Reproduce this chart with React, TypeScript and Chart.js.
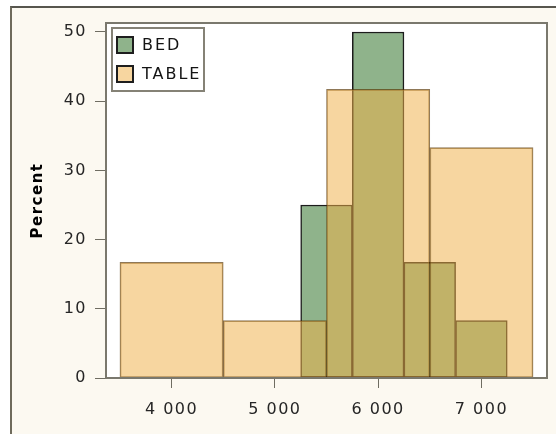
import React, { useEffect, useRef } from 'react';
import { Chart, registerables } from 'chart.js';

Chart.register(...registerables);

const seriesNames = ['BED', 'TABLE'];
const bedBinEdges = [5250, 5750, 6250, 6750, 7250];
const bedPercent = [25, 50, 16.7, 8.3];
const tableBinEdges = [3500, 4500, 5500, 6500, 7500];
const tablePercent = [16.7, 8.3, 41.7, 33.3];
const xTickValues = [4000, 5000, 6000, 7000];
const yTickValues = [0, 10, 20, 30, 40, 50];
const yAxisTitle = 'Percent';

const FONT = '"DejaVu Sans", Verdana, sans-serif';

const toBars = (edges: number[], values: number[]) =>
  values.map((v, i) => ({ x: (edges[i] + edges[i + 1]) / 2, y: v }));

const fmt = (v: number) => String(v).replace(/\B(?=(\d{3})+(?!\d))/g, ' ');

const backgroundPlugin = {
  id: 'plotBackground',
  beforeDraw(chart: any) {
    const { ctx, chartArea: a } = chart;
    ctx.letterSpacing = '1.5px';
    ctx.save();
    ctx.fillStyle = '#ffffff';
    ctx.fillRect(a.left, a.top, a.right - a.left, a.bottom - a.top);
    ctx.restore();
  },
};

const framePlugin = {
  id: 'plotFrame',
  afterDatasetsDraw(chart: any) {
    const { ctx, chartArea: a } = chart;
    ctx.save();
    ctx.strokeStyle = '#7a786d';
    ctx.lineWidth = 2;
    ctx.strokeRect(a.left, a.top, a.right - a.left, a.bottom - a.top);
    ctx.restore();

    // legend box inside the plot area
    const datasets = chart.data.datasets;
    const boxX = a.left + 5;
    const boxY = a.top + 4;
    const boxW = 94;
    const boxH = 65;
    ctx.save();
    ctx.fillStyle = '#ffffff';
    ctx.fillRect(boxX, boxY, boxW, boxH);
    ctx.strokeStyle = '#858276';
    ctx.lineWidth = 2;
    ctx.strokeRect(boxX + 1, boxY + 1, boxW - 2, boxH - 2);
    ctx.letterSpacing = '2px';
    ctx.font = `16px ${FONT}`;
    ctx.textBaseline = 'middle';
    ctx.textAlign = 'left';
    datasets.forEach((ds: any, i: number) => {
      const sy = boxY + 9 + i * 29;
      ctx.fillStyle = ds.backgroundColor;
      ctx.fillRect(boxX + 6, sy + 1, 16, 16);
      ctx.strokeStyle = '#1e1e1e';
      ctx.lineWidth = 2;
      ctx.strokeRect(boxX + 6, sy + 1, 16, 16);
      ctx.fillStyle = '#141414';
      ctx.fillText(ds.label, boxX + 31, sy + 9.5);
    });
    ctx.restore();
  },
};

export default function App() {
  const ref = useRef<HTMLCanvasElement | null>(null);

  useEffect(() => {
    if (!ref.current) return;
    const tickFont = { family: FONT, size: 16 };
    const chart = new Chart(ref.current, {
      type: 'bar',
      data: {
        datasets: [
          {
            label: seriesNames[0],
            data: toBars(bedBinEdges, bedPercent),
            xAxisID: 'x2',
            yAxisID: 'y',
            backgroundColor: '#8fb38b',
            borderColor: '#1c1c1c',
            borderWidth: 1.5,
            borderSkipped: false,
            barPercentage: 1,
            categoryPercentage: 1,
            grouped: false,
            order: 2,
          },
          {
            label: seriesNames[1],
            data: toBars(tableBinEdges, tablePercent),
            xAxisID: 'x',
            yAxisID: 'y',
            backgroundColor: 'rgba(240,176,72,0.52)',
            borderColor: 'rgba(85,50,0,0.66)',
            borderWidth: 1,
            borderSkipped: false,
            barPercentage: 1,
            categoryPercentage: 1,
            grouped: false,
            order: 1,
          },
        ] as any,
      },
      options: {
        responsive: false,
        animation: false,
        layout: { padding: { left: 0, top: 23, right: 9, bottom: 0 } },
        plugins: {
          legend: { display: false },
          tooltip: { enabled: false },
        },
        scales: {
          x: {
            type: 'linear',
            position: 'bottom',
            min: 3365,
            max: 7635,
            offset: false,
            afterBuildTicks: (s: any) => {
              s.ticks = xTickValues.map((v) => ({ value: v }));
            },
            afterFit: (s: any) => {
              s.height = 56;
            },
            ticks: {
              callback: (v: any) => fmt(Number(v)),
              color: '#262626',
              font: tickFont,
              padding: 12,
              maxRotation: 0,
              autoSkip: false,
            },
            grid: {
              offset: false,
              drawOnChartArea: false,
              drawTicks: true,
              tickLength: 10,
              tickColor: '#6f6d62',
              tickWidth: 1,
            },
            border: { display: false },
          },
          x2: {
            type: 'linear',
            position: 'bottom',
            display: false,
            min: 3365,
            max: 7635,
            offset: false,
            afterBuildTicks: (s: any) => {
              s.ticks = xTickValues.map((v) => ({ value: v }));
            },
            grid: { offset: false },
          },
          y: {
            type: 'linear',
            min: 0,
            max: 51.3,
            afterBuildTicks: (s: any) => {
              s.ticks = yTickValues.map((v) => ({ value: v }));
            },
            afterFit: (s: any) => {
              s.width = 106;
            },
            title: {
              display: true,
              text: yAxisTitle,
              color: '#000000',
              font: { family: FONT, size: 15, weight: 'bold' },
              padding: { top: 29, bottom: 0 },
            },
            ticks: {
              color: '#262626',
              font: tickFont,
              padding: 8,
            },
            grid: {
              drawOnChartArea: false,
              drawTicks: true,
              tickLength: 11,
              tickColor: '#6f6d62',
              tickWidth: 1,
            },
            border: { display: false },
          },
        },
      } as any,
      plugins: [backgroundPlugin, framePlugin],
    });
    return () => chart.destroy();
  }, []);

  return (
    <div
      style={{
        position: 'fixed',
        left: 0,
        top: 0,
        width: 556,
        height: 434,
        overflow: 'hidden',
        background: '#ffffff',
      }}
    >
      <div
        style={{
          position: 'absolute',
          left: 10,
          top: 6,
          width: 560,
          height: 450,
          background: '#fcf9f1',
          borderTop: '2px solid #57564e',
          borderLeft: '2px solid #6f6b5c',
        }}
      />
      <canvas
        ref={ref}
        width={556}
        height={434}
        style={{ position: 'absolute', left: 0, top: 0 }}
      />
    </div>
  );
}
